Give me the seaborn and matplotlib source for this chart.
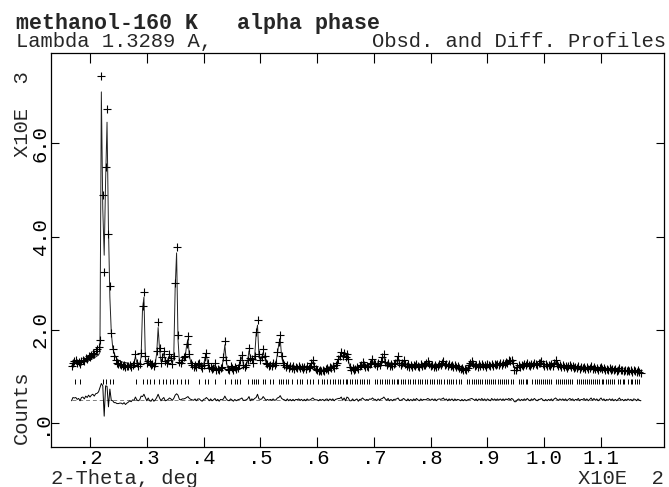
import numpy as np
import pandas as pd
import matplotlib
matplotlib.use("Agg")
import matplotlib.pyplot as plt
import seaborn as sns

# GSAS style powder pattern, methanol alpha phase at 160 K
TITLE = 'methanol-160 K   alpha phase'
SUBTITLE_LEFT = 'Lambda 1.3289 A,'
SUBTITLE_RIGHT = 'Obsd. and Diff. Profiles'
XLABEL = '2-Theta, deg'
XSCALE = 'X10E  2'
YSCALE = 'X10E  3'
YLABEL = 'Counts'

# scan: start and step in degrees 2-theta
TTH_START = 16.75
TTH_STEP = 0.25

# observed counts (x1000), one row = 5 deg
obs = [
    1.22, 1.30, 1.33, 1.36, 1.28, 1.31, 1.27, 1.34, 1.36, 1.33, 1.40, 1.38, 1.44, 1.41, 1.47, 1.50, 1.48, 1.55, 1.58, 1.63,
    1.78, 7.45, 4.90, 3.25, 5.50, 6.74, 4.05, 2.93, 1.94, 1.60, 1.44, 1.36, 1.30, 1.27, 1.26, 1.25, 1.22, 1.24, 1.20, 1.22,
    1.22, 1.24, 1.21, 1.25, 1.28, 1.49, 1.30, 1.23, 1.26, 1.50, 2.52, 2.82, 1.45, 1.28, 1.34, 1.30, 1.24, 1.27, 1.22, 1.28,
    1.55, 2.17, 1.62, 1.30, 1.42, 1.55, 1.33, 1.28, 1.36, 1.49, 1.40, 1.27, 1.45, 3.00, 3.78, 1.90, 1.32, 1.30, 1.36, 1.42,
    1.45, 1.70, 1.87, 1.48, 1.30, 1.24, 1.21, 1.25, 1.20, 1.26, 1.30, 1.22, 1.18, 1.25, 1.42, 1.50, 1.30, 1.18, 1.21, 1.16,
    1.18, 1.28, 1.15, 1.17, 1.13, 1.18, 1.20, 1.42, 1.76, 1.35, 1.17, 1.15, 1.22, 1.18, 1.14, 1.20, 1.16, 1.19, 1.24, 1.36,
    1.46, 1.25, 1.20, 1.24, 1.35, 1.62, 1.40, 1.38, 1.30, 1.45, 1.95, 2.22, 1.48, 1.35, 1.42, 1.59, 1.45, 1.28, 1.26, 1.23,
    1.25, 1.22, 1.28, 1.24, 1.30, 1.52, 1.75, 1.89, 1.45, 1.30, 1.24, 1.20, 1.25, 1.19, 1.23, 1.18, 1.22, 1.17, 1.21, 1.19,
    1.22, 1.18, 1.21, 1.16, 1.20, 1.17, 1.22, 1.19, 1.21, 1.28, 1.36, 1.22, 1.16, 1.14, 1.11, 1.15, 1.12, 1.14, 1.11, 1.16,
    1.18, 1.15, 1.20, 1.18, 1.22, 1.19, 1.24, 1.30, 1.38, 1.45, 1.52, 1.44, 1.50, 1.42, 1.48, 1.38, 1.20, 1.15, 1.18, 1.14,
    1.17, 1.20, 1.16, 1.22, 1.25, 1.31, 1.24, 1.20, 1.23, 1.21, 1.27, 1.30, 1.38, 1.30, 1.26, 1.22, 1.28, 1.25, 1.33, 1.42,
    1.48, 1.32, 1.24, 1.28, 1.22, 1.26, 1.23, 1.27, 1.30, 1.36, 1.43, 1.28, 1.25, 1.29, 1.36, 1.27, 1.22, 1.26, 1.21, 1.24,
    1.20, 1.25, 1.22, 1.27, 1.23, 1.21, 1.26, 1.22, 1.25, 1.24, 1.28, 1.33, 1.27, 1.22, 1.25, 1.21, 1.24, 1.20, 1.23, 1.26,
    1.25, 1.30, 1.34, 1.24, 1.27, 1.22, 1.26, 1.23, 1.25, 1.21, 1.24, 1.20, 1.22, 1.19, 1.16, 1.18, 1.14, 1.17, 1.15, 1.19,
    1.24, 1.30, 1.34, 1.27, 1.22, 1.25, 1.21, 1.26, 1.23, 1.27, 1.22, 1.25, 1.21, 1.26, 1.24, 1.22, 1.27, 1.23, 1.26, 1.24,
    1.27, 1.24, 1.28, 1.25, 1.29, 1.27, 1.31, 1.30, 1.36, 1.33, 1.35, 1.28, 1.15, 1.13, 1.20, 1.24, 1.21, 1.25, 1.23, 1.27,
    1.24, 1.28, 1.25, 1.23, 1.27, 1.24, 1.29, 1.26, 1.24, 1.28, 1.30, 1.34, 1.27, 1.23, 1.26, 1.22, 1.25, 1.23, 1.26, 1.22,
    1.30, 1.36, 1.26, 1.22, 1.25, 1.21, 1.24, 1.20, 1.23, 1.19, 1.22, 1.24, 1.20, 1.22, 1.18, 1.21, 1.19, 1.22, 1.17, 1.20,
    1.18, 1.21, 1.17, 1.20, 1.16, 1.19, 1.22, 1.17, 1.20, 1.16, 1.19, 1.15, 1.18, 1.21, 1.16, 1.18, 1.14, 1.17, 1.15, 1.18,
    1.14, 1.17, 1.13, 1.16, 1.12, 1.15, 1.18, 1.13, 1.15, 1.11, 1.14, 1.12, 1.15, 1.11, 1.13, 1.10, 1.14, 1.12, 1.09, 1.13,
    1.10, 1.08,
]

# calculated profile (x1000), same points
calc = [
    1.24, 1.25, 1.29, 1.31, 1.27, 1.28, 1.29, 1.29, 1.30, 1.31, 1.32, 1.33, 1.34, 1.35, 1.37, 1.38, 1.40, 1.42, 1.44, 1.46,
    1.52, 7.10, 4.60, 3.60, 5.20, 6.45, 4.20, 2.70, 1.95, 1.62, 1.50, 1.42, 1.38, 1.35, 1.33, 1.32, 1.31, 1.30, 1.30, 1.29,
    1.27, 1.26, 1.25, 1.25, 1.29, 1.43, 1.30, 1.25, 1.26, 1.42, 2.45, 2.70, 1.40, 1.30, 1.30, 1.32, 1.27, 1.25, 1.25, 1.28,
    1.50, 2.05, 1.58, 1.32, 1.40, 1.50, 1.35, 1.29, 1.35, 1.45, 1.38, 1.28, 1.42, 2.90, 3.65, 1.80, 1.31, 1.30, 1.34, 1.40,
    1.42, 1.65, 1.80, 1.45, 1.29, 1.24, 1.22, 1.23, 1.22, 1.24, 1.28, 1.23, 1.21, 1.24, 1.40, 1.45, 1.28, 1.20, 1.19, 1.18,
    1.18, 1.25, 1.17, 1.16, 1.16, 1.17, 1.20, 1.40, 1.68, 1.33, 1.18, 1.17, 1.20, 1.18, 1.17, 1.19, 1.18, 1.19, 1.23, 1.34,
    1.42, 1.26, 1.21, 1.24, 1.33, 1.55, 1.42, 1.36, 1.30, 1.42, 1.90, 2.10, 1.46, 1.34, 1.40, 1.52, 1.42, 1.29, 1.25, 1.24,
    1.24, 1.23, 1.26, 1.25, 1.30, 1.48, 1.70, 1.80, 1.42, 1.29, 1.24, 1.22, 1.23, 1.21, 1.22, 1.20, 1.21, 1.19, 1.20, 1.19,
    1.20, 1.19, 1.20, 1.18, 1.19, 1.19, 1.20, 1.20, 1.21, 1.26, 1.32, 1.21, 1.16, 1.14, 1.13, 1.14, 1.13, 1.13, 1.13, 1.15,
    1.16, 1.17, 1.18, 1.19, 1.20, 1.21, 1.23, 1.28, 1.35, 1.42, 1.46, 1.45, 1.46, 1.44, 1.42, 1.34, 1.22, 1.17, 1.16, 1.16,
    1.17, 1.18, 1.19, 1.21, 1.24, 1.27, 1.23, 1.21, 1.22, 1.22, 1.25, 1.29, 1.34, 1.29, 1.25, 1.24, 1.26, 1.26, 1.31, 1.39,
    1.42, 1.30, 1.25, 1.25, 1.24, 1.25, 1.25, 1.26, 1.29, 1.34, 1.39, 1.29, 1.26, 1.28, 1.33, 1.27, 1.24, 1.24, 1.23, 1.23,
    1.22, 1.23, 1.23, 1.24, 1.23, 1.23, 1.24, 1.23, 1.24, 1.24, 1.27, 1.30, 1.26, 1.23, 1.23, 1.22, 1.22, 1.22, 1.22, 1.24,
    1.24, 1.28, 1.30, 1.25, 1.25, 1.24, 1.24, 1.24, 1.23, 1.23, 1.22, 1.21, 1.21, 1.19, 1.18, 1.17, 1.16, 1.16, 1.17, 1.19,
    1.23, 1.28, 1.31, 1.26, 1.23, 1.23, 1.23, 1.24, 1.24, 1.24, 1.23, 1.23, 1.23, 1.24, 1.24, 1.24, 1.24, 1.24, 1.24, 1.25,
    1.25, 1.25, 1.26, 1.26, 1.27, 1.28, 1.29, 1.30, 1.33, 1.33, 1.32, 1.27, 1.19, 1.17, 1.20, 1.22, 1.23, 1.24, 1.24, 1.25,
    1.25, 1.25, 1.25, 1.25, 1.25, 1.25, 1.26, 1.26, 1.26, 1.27, 1.29, 1.31, 1.27, 1.25, 1.25, 1.24, 1.24, 1.24, 1.24, 1.24,
    1.28, 1.32, 1.25, 1.23, 1.23, 1.22, 1.22, 1.21, 1.21, 1.21, 1.21, 1.21, 1.20, 1.20, 1.20, 1.20, 1.19, 1.19, 1.19, 1.19,
    1.18, 1.18, 1.18, 1.18, 1.18, 1.18, 1.18, 1.18, 1.17, 1.17, 1.17, 1.17, 1.17, 1.17, 1.17, 1.16, 1.16, 1.16, 1.16, 1.16,
    1.15, 1.15, 1.15, 1.15, 1.14, 1.14, 1.14, 1.14, 1.14, 1.13, 1.13, 1.13, 1.13, 1.12, 1.12, 1.12, 1.12, 1.11, 1.11, 1.11,
    1.11, 1.10,
]

# reflection positions (deg)
refl = [17.4, 18.2, 22.3, 22.9, 23.5, 24.0, 28.1, 29.4, 30.1, 30.6, 31.3, 32.1, 32.9, 33.4, 34.1, 34.7,
        35.3, 36.1, 36.7, 37.3, 39.2, 40.2, 40.8, 42.0, 43.8, 44.9, 45.5, 45.9, 46.4, 47.9, 48.5, 48.8,
        49.3, 49.6, 50.5, 50.8, 51.7, 52.3, 53.2, 53.6, 54.0, 54.5, 54.9, 55.5, 56.4, 56.9, 57.3, 58.2,
        58.7, 59.3, 60.2, 60.8, 61.2, 61.7, 62.3, 62.8, 63.2, 63.7, 64.1, 64.5, 65.0, 65.3, 65.8, 66.2,
        66.6, 67.1, 67.5, 67.9, 68.3, 68.8, 69.2, 70.2, 70.6, 71.0, 71.5, 71.9, 72.3, 72.7, 73.1, 73.6,
        74.0, 74.3, 74.7, 75.1, 75.5, 76.0, 76.4, 76.8, 77.3, 77.7, 78.1, 78.5, 79.0, 79.4, 79.8, 80.2,
        80.6, 81.1, 81.5, 81.9, 82.3, 82.8, 83.2, 83.6, 84.0, 84.4, 84.9, 85.3, 86.4, 86.8, 87.2, 87.6,
        88.0, 88.3, 88.7, 89.1, 89.5, 89.9, 90.2, 90.6, 91.0, 91.4, 91.8, 92.2, 92.5, 92.9, 93.3, 93.7,
        94.1, 94.5, 95.5, 95.9, 96.3, 96.7, 97.0, 97.9, 98.3, 98.7, 99.0, 99.4, 99.8, 100.2, 100.5, 100.9,
        101.2, 102.0, 102.4, 102.7, 103.1, 103.5, 103.8, 104.2, 104.6, 104.9, 105.7, 106.1, 106.4, 106.8,
        107.2, 107.5, 107.9, 108.2, 108.6, 109.0, 109.3, 109.7, 110.1, 110.4, 110.8, 111.2, 111.5, 111.9,
        112.3, 113.0, 113.4, 113.8, 114.1, 114.8, 115.2, 115.5, 115.9, 116.3, 116.7]

x_ticks = [20, 30, 40, 50, 60, 70, 80, 90, 100, 110]
x_tick_labels = ['.2', '.3', '.4', '.5', '.6', '.7', '.8', '.9', '1.0', '1.1']
y_ticks = [0, 2, 4, 6]
y_tick_labels = ['.0', '2.0', '4.0', '6.0']

DIFF_ZERO = 0.50      # offset of the difference curve
REFL_LOW, REFL_HIGH = 0.84, 0.95
FS = 14.8

df = pd.DataFrame({'obs': obs, 'calc': calc})
df['tth'] = TTH_START + TTH_STEP * np.arange(len(df))
df['diff'] = df['obs'] - df['calc'] + DIFF_ZERO

sns.set_style('ticks')
plt.rcParams['font.family'] = ['Liberation Mono', 'DejaVu Sans Mono']
plt.rcParams['font.size'] = FS
plt.rcParams['axes.edgecolor'] = 'black'

W, H = 669, 487
fig = plt.figure(figsize=(W / 100, H / 100), dpi=100)
ax = fig.add_axes([50.7 / W, 1 - 446.5 / H, (664.3 - 50.7) / W, (446.5 - 52.7) / H])


def px(x, y):
    return x / W, 1 - y / H


# observed as crosses, calculated as line
sns.scatterplot(data=df, x='tth', y='obs', marker='+', s=32, color='black',
                linewidth=0.8, ax=ax, legend=False, zorder=3)
sns.lineplot(data=df, x='tth', y='calc', color='#222222', linewidth=0.7,
             estimator=None, sort=False, ax=ax, zorder=2)

# reflection markers and difference curve
ax.vlines(refl, REFL_LOW, REFL_HIGH, colors='black', linewidth=0.7)
ax.hlines(DIFF_ZERO, df['tth'].iloc[0], df['tth'].iloc[-1], colors='0.5',
          linestyles=(0, (4, 3)), linewidth=0.7)
sns.lineplot(data=df, x='tth', y='diff', color='black', linewidth=0.7,
             estimator=None, sort=False, ax=ax)

ax.set_xlim(13.08, 121.14)
ax.set_ylim(-0.50, 7.94)
ax.set_xticks(x_ticks, x_tick_labels)
ax.set_yticks(y_ticks, y_tick_labels)
ax.set_xlabel('')
ax.set_ylabel('')
for s in ax.spines.values():
    s.set_linewidth(0.9)
    s.set_color('black')
ax.tick_params(direction='in', top=True, right=True, width=0.8, color='black',
               labelsize=FS, labelcolor='black')
ax.tick_params(axis='x', length=7.5, pad=1.5)
ax.tick_params(axis='y', length=6.0, pad=0.6)
plt.setp(ax.get_yticklabels(), rotation=90, va='center')

# header and axis texts in the GSAS layout
fig.text(*px(15.6, 28.5), TITLE, fontsize=15.6, fontweight='bold', ha='left', va='baseline')
fig.text(*px(15.6, 47.0), SUBTITLE_LEFT, ha='left', va='baseline')
fig.text(*px(666.0, 47.0), SUBTITLE_RIGHT, ha='right', va='baseline')
fig.text(*px(51.0, 483.5), XLABEL, ha='left', va='baseline')
fig.text(*px(664.0, 483.5), XSCALE, ha='right', va='baseline')
fig.text(*px(28.0, 157.0), YSCALE, rotation=90, rotation_mode='anchor',
         ha='left', va='baseline')
fig.text(*px(26.5, 444.0), YLABEL, rotation=90, rotation_mode='anchor',
         ha='left', va='baseline')

fig.savefig('out.png', dpi=100)
